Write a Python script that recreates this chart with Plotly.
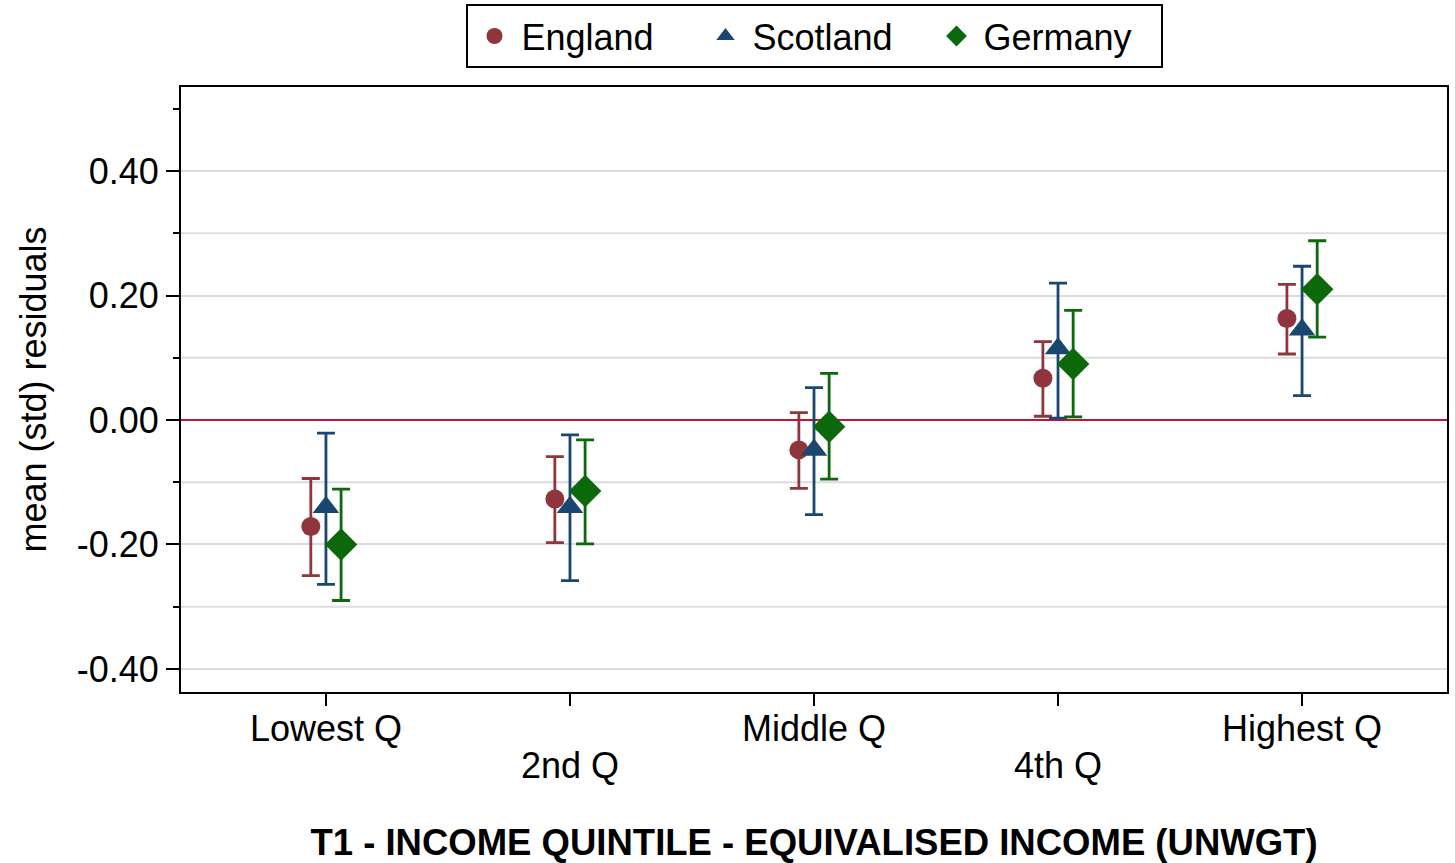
import plotly.graph_objects as go

# Quintile categories and tick labels
categories = [1, 2, 3, 4, 5]
tick_labels = ["Lowest Q", "2nd Q", "Middle Q", "4th Q", "Highest Q"]

# Mean standardised residuals with confidence interval bounds
england_mean = [-0.171, -0.127, -0.048, 0.067, 0.163]
england_hi = [-0.094, -0.059, 0.012, 0.126, 0.218]
england_lo = [-0.250, -0.197, -0.110, 0.006, 0.106]

scotland_mean = [-0.140, -0.140, -0.048, 0.115, 0.145]
scotland_hi = [-0.021, -0.024, 0.052, 0.220, 0.247]
scotland_lo = [-0.264, -0.258, -0.152, 0.003, 0.039]

germany_mean = [-0.200, -0.114, -0.011, 0.090, 0.210]
germany_hi = [-0.111, -0.032, 0.075, 0.176, 0.288]
germany_lo = [-0.290, -0.199, -0.095, 0.005, 0.133]

series = [
    ("England", england_mean, england_hi, england_lo, "#90353B", "circle", 19, -0.062),
    ("Scotland", scotland_mean, scotland_hi, scotland_lo, "#1A476F", "triangle-up", 23, 0.0),
    ("Germany", germany_mean, germany_hi, germany_lo, "#0B690B", "diamond", 25, 0.062),
]

FONT = "Arial, 'Liberation Sans', sans-serif"
TICK_SIZE = 36

fig = go.Figure()
for name, mean, hi, lo, color, symbol, size, offset in series:
    fig.add_trace(go.Scatter(
        x=[c + offset for c in categories],
        y=mean,
        mode="markers",
        name=name,
        marker=dict(color=color, symbol=symbol, size=size, line=dict(width=0)),
        error_y=dict(
            type="data", symmetric=False,
            array=[h - m for h, m in zip(hi, mean)],
            arrayminus=[m - l for m, l in zip(mean, lo)],
            color=color, thickness=2.8, width=9,
        ),
    ))

# light horizontal rules at the in-between steps
for yv in [-0.3, -0.1, 0.1, 0.3]:
    fig.add_shape(type="line", xref="paper", x0=0, x1=1, yref="y", y0=yv, y1=yv,
                  line=dict(color="#DCDCDC", width=2), layer="below")

# staggered category labels: odd categories on the axis, even ones one row lower
for i, (pos, label) in enumerate(zip(categories, tick_labels)):
    fig.add_annotation(
        x=pos, xref="x", y=0, yref="paper",
        text=label, showarrow=False,
        xanchor="center", yanchor="middle",
        yshift=-36 if i % 2 == 0 else -73,
        font=dict(size=TICK_SIZE, family=FONT, color="black"),
    )

fig.update_layout(
    width=1455, height=863,
    margin=dict(l=181, r=8, t=87, b=171, autoexpand=False),
    paper_bgcolor="white", plot_bgcolor="white",
    font=dict(family=FONT, size=36, color="black"),
    showlegend=True,
    legend=dict(
        orientation="h", x=0.5, xanchor="center", y=1.137, yanchor="top",
        bordercolor="black", borderwidth=2, font=dict(size=36),
        itemsizing="trace", itemwidth=44, tracegroupgap=0,
        entrywidth=172, entrywidthmode="pixels",
    ),
)

fig.update_xaxes(
    range=[0.406, 5.594],
    tickmode="array", tickvals=categories, ticktext=[""] * len(categories),
    ticks="outside", ticklen=12, tickwidth=1.5, tickcolor="black",
    showline=True, linecolor="black", linewidth=2, mirror=True,
    showgrid=False, zeroline=False,
    title=dict(text="<b>T1 - INCOME QUINTILE - EQUIVALISED INCOME (UNWGT)</b>",
               font=dict(size=36.5), standoff=118),
)

fig.update_yaxes(
    range=[-0.437, 0.535],
    tickmode="array", tickvals=[-0.4, -0.2, 0.0, 0.2, 0.4],
    ticktext=["-0.40", "-0.20", "0.00", "0.20", "0.40"],
    ticks="outside", ticklen=13, tickwidth=1.5, tickcolor="black",
    minor=dict(tickmode="array", tickvals=[-0.3, -0.1, 0.1, 0.3, 0.5],
               ticks="outside", ticklen=6, tickwidth=1.5, tickcolor="black",
               showgrid=False),
    showline=True, linecolor="black", linewidth=2, mirror=True,
    showgrid=True, gridcolor="#DCDCDC", gridwidth=2,
    zeroline=True, zerolinecolor="#C0143C", zerolinewidth=2,
    tickfont=dict(size=TICK_SIZE),
    title=dict(text="mean (std) residuals", font=dict(size=36), standoff=19),
)

fig.write_html("out.html")
